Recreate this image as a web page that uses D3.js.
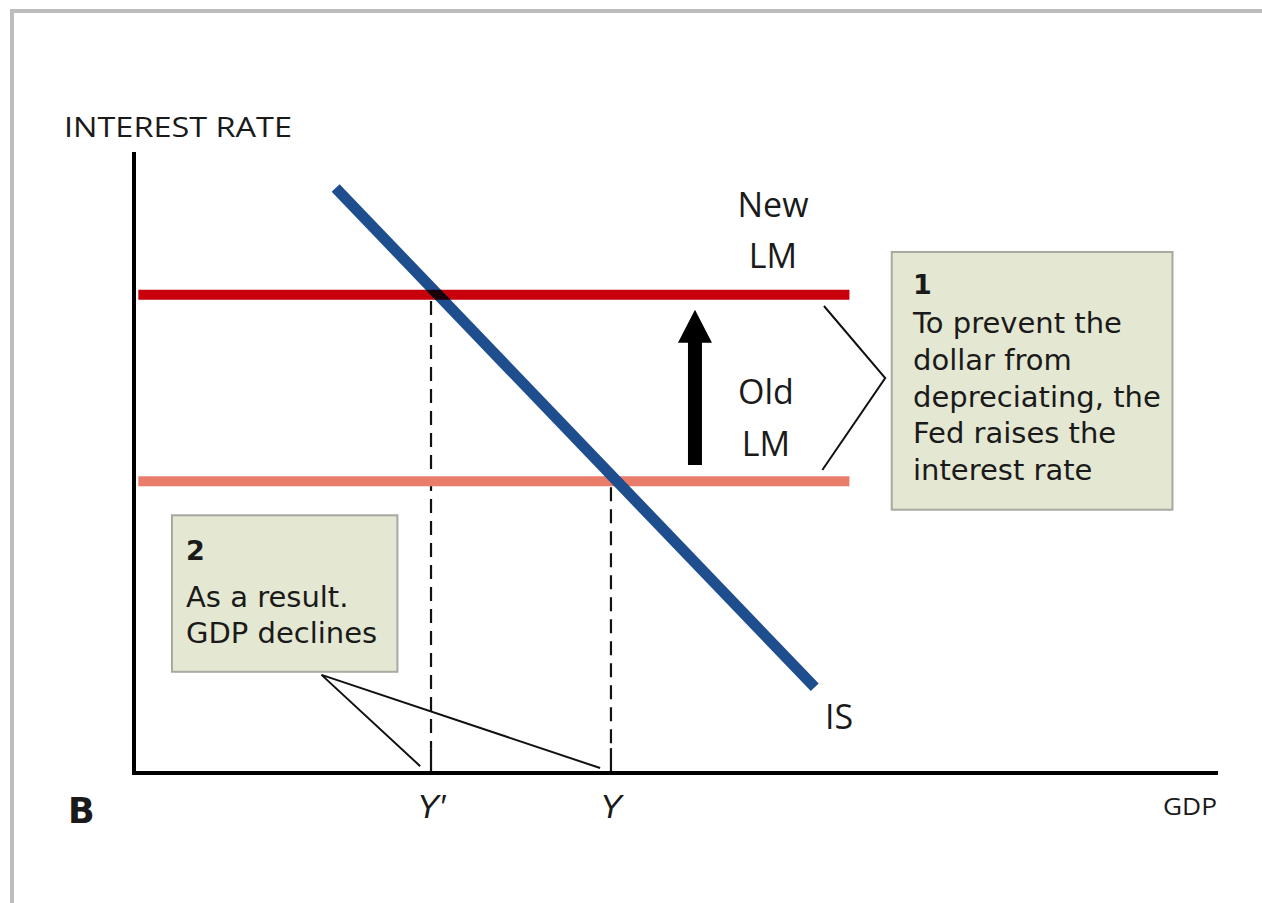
<!DOCTYPE html>
<html><head><meta charset="utf-8">
<script src="https://cdn.jsdelivr.net/npm/d3@7"></script>
<style>
html,body{margin:0;padding:0;background:#fff;}
svg{display:block;}
text{fill:#1a1a1a;}
</style></head>
<body>
<svg id="c" width="1262" height="903"></svg>
<script>
// ---- data ----
const lmCurves = ["New LM", "Old LM"];
const lmRates = [77, 47];
const lmSpan = [0.4, 66];
const isGdp = [18.6, 62.8];
const isRates = [94.2, 13.8];
const outputLabels = ["Y\u2032", "Y"];
const outputValues = [27.4, 44.0];
const outputRates = [77, 47];
const box1Lines = ["To prevent the", "dollar from", "depreciating, the", "Fed raises the", "interest rate"];
const box2Lines = ["As a result.", "GDP declines"];

// ---- layout ----
const svg = d3.select("#c");
const x = d3.scaleLinear().domain([0, 100]).range([134, 1218]);
const y = d3.scaleLinear().domain([0, 100]).range([773, 152]);
const baseFont = "'Open Sans', 'DejaVu Sans', sans-serif";
const boxFont = "'DejaVu Sans', sans-serif";

// frame
svg.append("path").attr("d", "M12,903 L12,11 L1262,11")
  .attr("fill", "none").attr("stroke", "#bdbdbd").attr("stroke-width", 4);

const line = d3.line().x(d => x(d[0])).y(d => y(d[1]));

function lbl(t, px, py, fs, anchor, fam) {
  return svg.append("text").attr("x", px).attr("y", py)
    .style("font-size", fs + "px").style("font-family", fam || baseFont)
    .attr("text-anchor", anchor || "middle").text(t);
}

// dashed output lines
outputValues.forEach((v, i) => {
  svg.append("path").attr("d", line([[v, outputRates[i] - 1], [v, 4]]))
    .attr("stroke", "#111").attr("stroke-width", 2.2).attr("stroke-dasharray", "14,8").attr("fill", "none");
  svg.append("path").attr("d", line([[v, 4], [v, 0]]))
    .attr("stroke", "#111").attr("stroke-width", 2.2).attr("fill", "none");
  lbl(outputLabels[i], x(v), 818, 33, "middle", "'Liberation Sans Narrow', 'Liberation Sans', sans-serif")
    .style("font-style", "italic");
});

// LM curves
const lmColors = ["#c8000c", "#ea7c6c"];
lmCurves.forEach((c, i) => {
  svg.append("path").attr("d", line([[lmSpan[0], lmRates[i]], [lmSpan[1], lmRates[i]]]))
    .attr("stroke", lmColors[i]).attr("stroke-width", 10).attr("fill", "none");
});

// IS curve
const isPts = [[isGdp[0], isRates[0]], [isGdp[1], isRates[1]]];
svg.append("path").attr("d", line(isPts))
  .attr("stroke", "#1f4e8e").attr("stroke-width", 11).attr("fill", "none");
// darker overlap where IS crosses the new LM
svg.append("clipPath").attr("id", "newband").append("rect")
  .attr("x", x(0)).attr("width", x(lmSpan[1]) - x(0))
  .attr("y", y(lmRates[0]) - 5).attr("height", 10);
svg.append("path").attr("d", line(isPts)).attr("clip-path", "url(#newband)")
  .attr("stroke", "#1a0008").attr("stroke-width", 11).attr("fill", "none");

// axes
svg.append("path").attr("d", line([[0, 100], [0, 0], [100, 0]]))
  .attr("stroke", "#000").attr("stroke-width", 4).attr("fill", "none");

// arrow
const ax = x(51.75), aBot = y(49.6), aTip = y(74.6);
svg.append("path").attr("d",
  `M${ax-7},${aBot} L${ax-7},${aTip+33} L${ax-17},${aTip+33} L${ax},${aTip} L${ax+17},${aTip+33} L${ax+7},${aTip+33} L${ax+7},${aBot} Z`)
  .attr("fill", "#000");

// bracket
svg.append("path").attr("d", line([[63.65, 75.2], [69.3, 63.6], [63.5, 48.8]]))
  .attr("stroke", "#111").attr("stroke-width", 2).attr("fill", "none");

// pointer lines for box 2
svg.append("path").attr("d", line([[26.4, 1.1], [17.3, 15.8], [43.0, 0.8]]))
  .attr("stroke", "#111").attr("stroke-width", 2).attr("fill", "none");

// curve labels
lbl("New", 773, 217, 34);
lbl("LM", 773, 268, 34);
lbl("Old", 766, 404, 34);
lbl("LM", 766, 456, 34);
lbl("IS", 839, 729, 34);

// axis titles
lbl("INTEREST RATE", 64, 137, 27, "start").attr("textLength", 228).attr("lengthAdjust", "spacingAndGlyphs");
lbl("GDP", 1163, 815, 24, "start").attr("textLength", 54).attr("lengthAdjust", "spacingAndGlyphs");
lbl("B", 68, 823, 35, "start", boxFont).style("font-weight", "bold");

// boxes
function box(x0, y0, x1, y1) {
  svg.append("rect").attr("x", x(x0)).attr("y", y(y0)).attr("width", x(x1) - x(x0)).attr("height", y(y1) - y(y0))
    .attr("fill", "#e4e7d1").attr("stroke", "#a7a89e").attr("stroke-width", 2);
}
box(69.9, 83.9, 95.8, 42.4);
lbl("1", 913, 294, 27, "start", boxFont).style("font-weight", "bold");
box1Lines.forEach((t, i) => lbl(t, 913, 333 + i * 36.8, 29, "start", boxFont));

box(3.5, 41.5, 24.3, 16.3);
lbl("2", 186, 560, 27, "start", boxFont).style("font-weight", "bold");
box2Lines.forEach((t, i) => lbl(t, 186, 607 + i * 36, 29, "start", boxFont));
</script>
</body></html>
